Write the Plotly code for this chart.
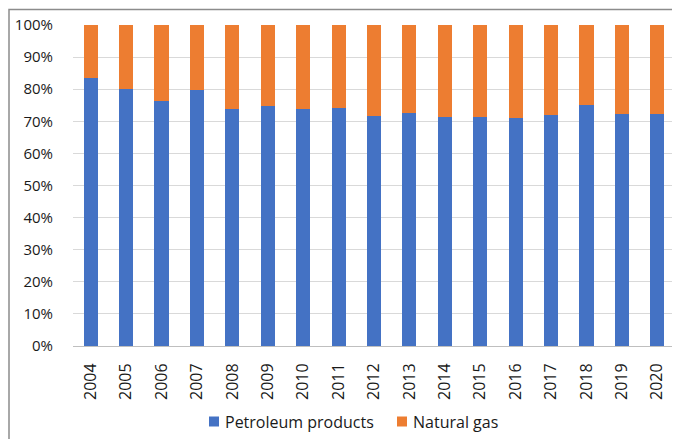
import plotly.graph_objects as go

years = [str(y) for y in range(2004, 2021)]
petroleum = [83.5, 80.1, 76.3, 79.8, 73.7, 74.8, 73.8, 74.2, 71.7, 72.7, 71.2, 71.3, 71.0, 72.0, 75.2, 72.3, 72.3]
natural_gas = [round(100 - p, 1) for p in petroleum]
series_names = ["Petroleum products", "Natural gas"]
series_colors = ["#4472C4", "#ED7D31"]
y_ticks = [0, 10, 20, 30, 40, 50, 60, 70, 80, 90, 100]
y_tick_labels = [f"{v}%" for v in y_ticks]

FONT = "Open Sans"
TXT = "#1a1a1a"

# page offset of the figure (default body margin)
OFF = 8
W, H = 680 - OFF, 439 - OFF
ML, MR, MT, MB = 73 - OFF, 5, 25 - OFF, 93
PW = W - ML - MR
PH = H - MT - MB


def px(page_x):
    return (page_x - OFF - ML) / PW


def py(page_y):
    return 1 - (page_y - OFF - MT) / PH


fig = go.Figure()
fig.add_trace(go.Bar(x=years, y=petroleum, name=series_names[0],
                     marker=dict(color=series_colors[0], line=dict(width=0))))
fig.add_trace(go.Bar(x=years, y=natural_gas, name=series_names[1],
                     marker=dict(color=series_colors[1], line=dict(width=0))))

# legend drawn as real text plus colour keys
legend_key_x = [209, 397]
legend_y = 421.5
shapes = [dict(type="rect", xref="paper", yref="paper",
               x0=px(1 + OFF), x1=px(W + 20 + OFF),
               y0=py(H + 30 + OFF), y1=py(1.5 + OFF),
               line=dict(color="#8C8C8C", width=1.5), fillcolor="rgba(0,0,0,0)",
               layer="above")]
annotations = []
for name, color, kx in zip(series_names, series_colors, legend_key_x):
    shapes.append(dict(type="rect", xref="paper", yref="paper",
                       x0=px(kx), x1=px(kx + 10), y0=py(legend_y + 5), y1=py(legend_y - 5),
                       line=dict(width=0), fillcolor=color))
    annotations.append(dict(text=name, xref="paper", yref="paper", x=px(kx + 15), y=py(legend_y),
                            xanchor="left", yanchor="middle", showarrow=False,
                            font=dict(size=16, color=TXT, family=FONT), borderpad=0))

fig.update_layout(
    barmode="stack",
    bargap=0.6,
    width=W, height=H,
    margin=dict(l=ML, r=MR, t=MT, b=MB),
    paper_bgcolor="white", plot_bgcolor="white",
    font=dict(family=FONT, size=15, color=TXT),
    showlegend=False,
    xaxis=dict(tickangle=-90, showgrid=False, showline=True, linecolor="#BFBFBF",
               linewidth=1, ticks="outside", ticklen=10, tickcolor="rgba(0,0,0,0)",
               tickfont=dict(size=16), automargin=False),
    yaxis=dict(range=[0, 100], tickvals=y_ticks, ticktext=y_tick_labels,
               showgrid=True, gridcolor="#D9D9D9", gridwidth=1, zeroline=False,
               showline=False, ticks="outside", ticklen=16, tickcolor="rgba(0,0,0,0)",
               tickfont=dict(size=15), automargin=False),
    shapes=shapes,
    annotations=annotations,
)

fig.write_html("out.html")
